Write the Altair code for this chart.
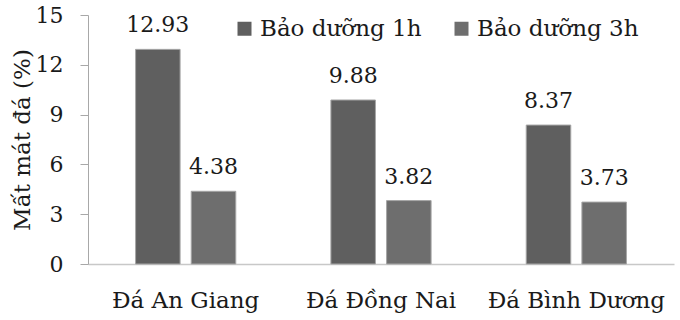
import altair as alt
import pandas as pd

categories = ["Đá An Giang", "Đá Đồng Nai", "Đá Bình Dương"]
series = ["Bảo dưỡng 1h", "Bảo dưỡng 3h"]
values_1h = [12.93, 9.88, 8.37]
values_3h = [4.38, 3.82, 3.73]
y_ticks = [0, 3, 6, 9, 12, 15]
colors = ["#5f5f5f", "#6e6e6e"]

rows = []
for c, v in zip(categories, values_1h):
    rows.append({"cat": c, "series": series[0], "value": v})
for c, v in zip(categories, values_3h):
    rows.append({"cat": c, "series": series[1], "value": v})
df = pd.DataFrame(rows)

FONT = "DejaVu Serif"
TXT = "#1a1a1a"
FS = 23
NUM_FS = 22

x = alt.X(
    "cat:N", sort=categories, title=None,
    scale=alt.Scale(paddingInner=0.487, paddingOuter=0.2435),
    axis=alt.Axis(labelAngle=0, ticks=False, domainColor="#c8c8c8", domainWidth=1.5,
                  labelFont=FONT, labelFontSize=FS, labelColor=TXT,
                  labelBaseline="alphabetic", labelPadding=43, labelLimit=400),
)
xo = alt.XOffset("series:N", sort=series, scale=alt.Scale(paddingInner=0.2, paddingOuter=0))
y = alt.Y(
    "value:Q", title="Mất mát đá (%)",
    scale=alt.Scale(domain=[0, 15], nice=False),
    axis=alt.Axis(values=y_ticks, grid=False, tickSize=8, tickColor="#a8a8a8",
                  domainColor="#a8a8a8", labelFont=FONT, labelFontSize=NUM_FS,
                  labelColor=TXT, labelPadding=17,
                  titleFont=FONT, titleFontSize=FS, titleFontWeight="normal",
                  titleColor=TXT, titleX=-66, titleY=124.5, titleBaseline="middle"),
)
color = alt.Color(
    "series:N", sort=series,
    scale=alt.Scale(domain=series, range=colors),
    legend=alt.Legend(title=None, orient="none", legendX=145, legendY=2,
                      direction="horizontal", symbolType="square", symbolSize=196,
                      symbolStrokeWidth=0, labelFont=FONT, labelFontSize=FS,
                      labelColor=TXT, labelOffset=4, labelLimit=400, columnPadding=28),
)

bars = alt.Chart(df).mark_bar(stroke="#a6a6a6", strokeWidth=1).encode(
    x=x, xOffset=xo, y=y, color=color
)
labels = alt.Chart(df).mark_text(
    font=FONT, fontSize=NUM_FS, color=TXT, baseline="alphabetic", dy=-17
).encode(
    x=x, xOffset=xo, y=y, text=alt.Text("value:Q", format=".2f")
)

chart = (bars + labels).properties(
    width=586, height=249,
    autosize=alt.AutoSizeParams(type="none"),
    padding={"left": 88, "top": 15, "right": 6, "bottom": 56},
    background="white",
).configure_view(stroke=None)

chart.save("out.html", embed_options={"renderer": "svg", "actions": False})
